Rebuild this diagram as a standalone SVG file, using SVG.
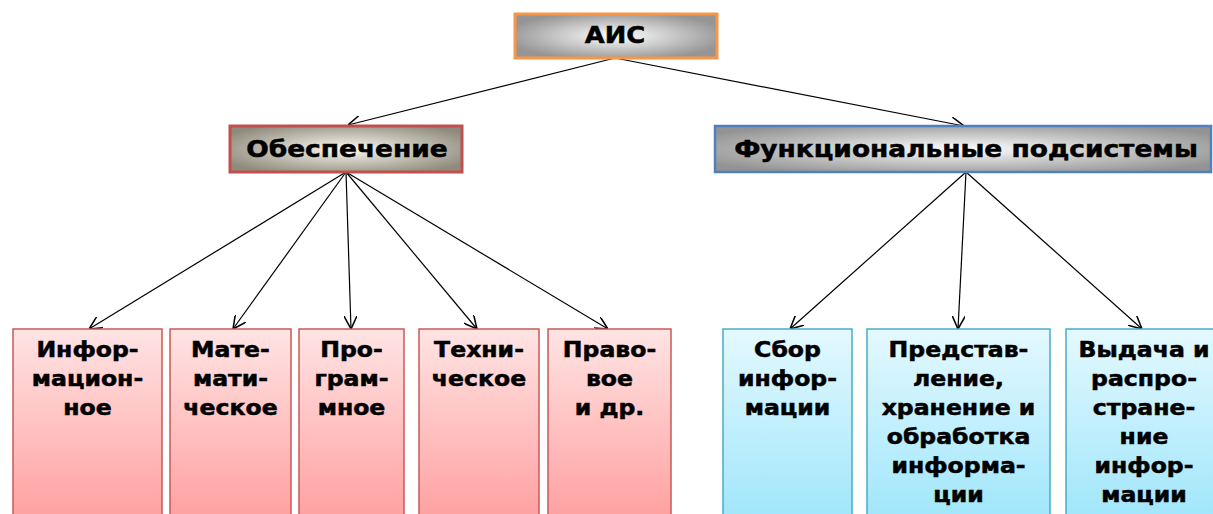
<svg xmlns="http://www.w3.org/2000/svg" width="1213" height="514" viewBox="0 0 1213 514">
<defs>
<style>
text{font-family:"DejaVu Sans","Verdana",sans-serif;font-weight:bold;fill:#000;stroke:#000;stroke-width:0.5;text-anchor:middle}
.t1{font-size:23px}
.t2{font-size:20.5px}
.conn line{stroke:#000;stroke-width:1.2;marker-end:url(#ah)}
.pink{fill:url(#gPink);stroke:#c85a5a;stroke-width:1.5}
.blue{fill:url(#gBlue);stroke:#4aacc6;stroke-width:1.5}
</style>
<radialGradient id="gGray" cx="0.5" cy="0.5" r="0.55">
<stop offset="0" stop-color="#ffffff"/><stop offset="1" stop-color="#959595"/>
</radialGradient>
<radialGradient id="gBrown" cx="0.5" cy="0.5" r="0.6">
<stop offset="0" stop-color="#fbfaf2"/><stop offset="1" stop-color="#8f8a7c"/>
</radialGradient>
<radialGradient id="gGray2" cx="0.5" cy="0.5" r="0.6">
<stop offset="0" stop-color="#fdfdfd"/><stop offset="1" stop-color="#939393"/>
</radialGradient>
<linearGradient id="gPink" x1="0" y1="0" x2="0" y2="1">
<stop offset="0" stop-color="#ffe4e4"/><stop offset="1" stop-color="#ffa0a0"/>
</linearGradient>
<linearGradient id="gBlue" x1="0" y1="0" x2="0" y2="1">
<stop offset="0" stop-color="#e4f9ff"/><stop offset="1" stop-color="#a0e6fb"/>
</linearGradient>
<marker id="ah" viewBox="0 0 10 10" refX="10" refY="5" markerWidth="13" markerHeight="13" markerUnits="userSpaceOnUse" orient="auto">
<path d="M0,0 L10,5 L0,10" fill="none" stroke="#000" stroke-width="1.2"/>
</marker>
</defs>
<rect width="1213" height="514" fill="#fff"/>

<g id="connectors" class="conn">
<line x1="615" y1="58" x2="348" y2="125"/>
<line x1="615" y1="58" x2="964" y2="126"/>
<line x1="346" y1="172" x2="89" y2="329"/>
<line x1="346" y1="172" x2="233" y2="329"/>
<line x1="346" y1="172" x2="351" y2="329"/>
<line x1="346" y1="172" x2="477" y2="329"/>
<line x1="346" y1="172" x2="608" y2="329"/>
<line x1="966" y1="172" x2="790" y2="329"/>
<line x1="966" y1="172" x2="958" y2="329"/>
<line x1="966" y1="172" x2="1142" y2="329"/>
</g>

<g id="n-ais">
<rect x="515" y="14" width="202" height="44" fill="url(#gGray)" stroke="#f79646" stroke-width="3"/>
<text class="t1" transform="translate(615 0) scale(1.12 1)" x="0" y="43">АИС</text>
</g>

<g id="n-obesp">
<rect x="230" y="126" width="232" height="46" fill="url(#gBrown)" stroke="#c0504d" stroke-width="3"/>
<text class="t1" transform="translate(347 0) scale(1.15 1)" x="0" y="157">Обеспечение</text>
</g>

<g id="n-func">
<rect x="715" y="126" width="496" height="46" fill="url(#gGray2)" stroke="#4f81bd" stroke-width="2.5"/>
<text class="t1" transform="translate(966 0) scale(1.15 1)" x="0" y="157">Функциональные подсистемы</text>
</g>

<g id="n-inf">
<rect class="pink" x="13" y="329" width="149" height="190"/>
<text class="t2" transform="translate(87.5 0) scale(1.15 1)"><tspan x="0" y="357">Инфор-</tspan><tspan x="0" y="386">мацион-</tspan><tspan x="0" y="415">ное</tspan></text>
</g>
<g id="n-mat">
<rect class="pink" x="170" y="329" width="121" height="190"/>
<text class="t2" transform="translate(230.5 0) scale(1.15 1)"><tspan x="0" y="357">Мате-</tspan><tspan x="0" y="386">мати-</tspan><tspan x="0" y="415">ческое</tspan></text>
</g>
<g id="n-prog">
<rect class="pink" x="299" y="329" width="105" height="190"/>
<text class="t2" transform="translate(351.5 0) scale(1.15 1)"><tspan x="0" y="357">Про-</tspan><tspan x="0" y="386">грам-</tspan><tspan x="0" y="415">мное</tspan></text>
</g>
<g id="n-tech">
<rect class="pink" x="419" y="329" width="120" height="190"/>
<text class="t2" transform="translate(479 0) scale(1.15 1)"><tspan x="0" y="357">Техни-</tspan><tspan x="0" y="386">ческое</tspan></text>
</g>
<g id="n-prav">
<rect class="pink" x="548" y="329" width="123" height="190"/>
<text class="t2" transform="translate(609.5 0) scale(1.15 1)"><tspan x="0" y="357">Право-</tspan><tspan x="0" y="386">вое</tspan><tspan x="0" y="415">и др.</tspan></text>
</g>

<g id="n-sbor">
<rect class="blue" x="723" y="329" width="129" height="190"/>
<text class="t2" transform="translate(787.5 0) scale(1.15 1)"><tspan x="0" y="357">Сбор</tspan><tspan x="0" y="386">инфор-</tspan><tspan x="0" y="415">мации</tspan></text>
</g>
<g id="n-pred">
<rect class="blue" x="867" y="329" width="183" height="190"/>
<text class="t2" transform="translate(958.5 0) scale(1.15 1)"><tspan x="0" y="357">Представ-</tspan><tspan x="0" y="386">ление,</tspan><tspan x="0" y="415">хранение и</tspan><tspan x="0" y="444">обработка</tspan><tspan x="0" y="473">информа-</tspan><tspan x="0" y="502">ции</tspan></text>
</g>
<g id="n-vyd">
<rect class="blue" x="1066" y="329" width="160" height="190"/>
<text class="t2" transform="translate(1144 0) scale(1.15 1)"><tspan x="0" y="357">Выдача и</tspan><tspan x="0" y="386">распро-</tspan><tspan x="0" y="415">стране-</tspan><tspan x="0" y="444">ние</tspan><tspan x="0" y="473">инфор-</tspan><tspan x="0" y="502">мации</tspan></text>
</g>
</svg>
